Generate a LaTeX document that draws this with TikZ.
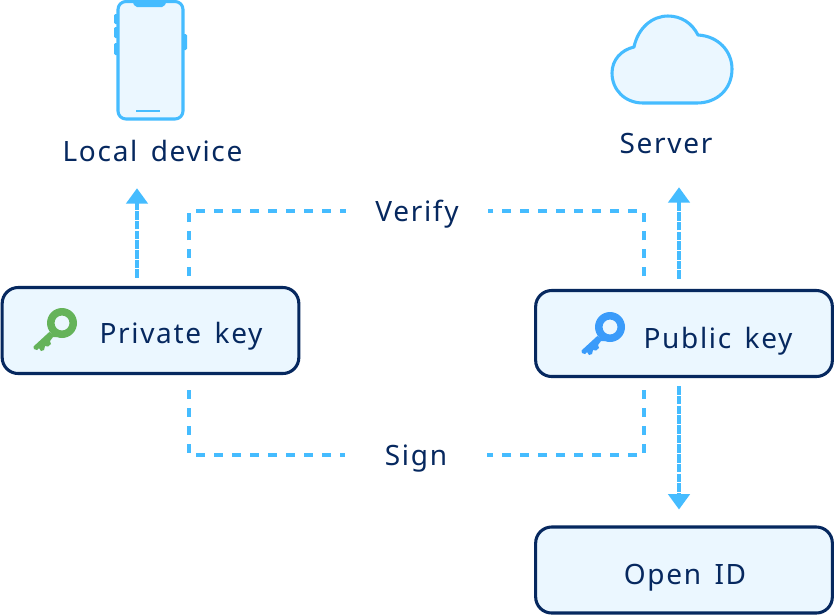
\documentclass[tikz,border=0pt]{standalone}
\usepackage{fontspec}
\setmainfont[LetterSpace=6,WordSpace=1.5]{Noto Sans}
\usepackage{tikz}
\usetikzlibrary{arrows.meta}
\definecolor{navy}{HTML}{06285F}
\definecolor{skyline}{HTML}{45BCFF}
\definecolor{skyfill}{HTML}{EBF7FF}
\definecolor{keygreen}{HTML}{65B35A}
\definecolor{keyblue}{HTML}{3A9BFA}
\begin{document}
\begin{tikzpicture}
    [
    x=0.75pt,y=-0.75pt,
    box/.style={rectangle,draw=navy,fill=skyfill,line width=2.3pt,rounded corners=12pt,minimum width=222.5pt,minimum height=64.5pt,inner sep=0pt},
    label/.style={text=navy,font=\fontsize{21}{24}\selectfont,inner sep=0pt,text height=15pt,text depth=0pt},
    gaplabel/.style={label,minimum width=106pt},
    flow/.style={skyline,line width=2.5pt,dash pattern=on 6.75pt off 6.75pt},
    arrow/.style={skyline,line width=2.5pt,dash pattern=on 6.4pt off 0.9pt,-{Triangle[length=11.5pt,width=16pt]}},
    icon/.style={draw=skyline,fill=skyfill,line width=2.3pt,line join=round},
    key/.pic={
      \fill [even odd rule] (0,0) circle (15) (0,0) circle (7.5);
      \fill (-12.7,9) -- (-28.5,23.5) -- (-28,26) -- (-25,27) -- (-23,25) -- (-21,28) -- (-18,27) -- (-17,23) -- (-14,23.5) -- (-11,21) -- (-12,18) -- (-9,14) -- (-5,14) -- cycle;
    }
    ]
    \useasboundingbox (0,0) rectangle (834,615);
    \fill [white] (0,0) rectangle (834,615);
    % phone
    \fill [skyline,rounded corners=1pt] (114,14) rectangle (119,24) (114,27) rectangle (119,38) (114,43) rectangle (119,55) (182,34) rectangle (187,50);
    \draw [icon,rounded corners=6pt] (118,1.5) rectangle (183,119);
    \fill [skyline] (132,0) -- (167,0) -- (165,5) -- (162,7) -- (137,7) -- (134,5) -- cycle;
    \draw [skyline,line width=2pt] (136,111) -- (160,111);
    % cloud
    \draw [icon] (643,103) .. controls (625,103) and (612,90) .. (612,73) .. controls (612,60) and (621,50) .. (634,47) .. controls (638,28) and (652,16) .. (668,16) .. controls (681,16) and (692,23) .. (698,35) .. controls (718,36) and (732,51) .. (732,69) .. controls (732,89) and (717,103) .. (697,103) -- cycle;
    % labels
    \node (local) at (152.5,151) [label] {Local device};
    \node (server) at (666,143) [label] {Server};
    \node (verify) at (417,211) [gaplabel] {Verify};
    \node (sign) at (416,455) [gaplabel] {Sign};
    % boxes
    \node (private) at (150.5,330.5) [box] {};
    \node (public) at (684,333.5) [box] {};
    \node (openid) at (684,570) [box] {};
    \node (privatetext) at (181,333) [label] {Private key};
    \node (publictext) at (718,338) [label] {Public key};
    \node (openidtext) at (685,574) [label] {Open ID};
    \pic [keygreen] at (62,323) {key};
    \pic [keyblue] at (610,327) {key};
    % free ends
    \coordinate (vl) at (189,276);
    \coordinate (vr) at (644,276);
    \coordinate (sl) at (189,390);
    \coordinate (sr) at (644,390);
    \draw [flow] (vl) |- (verify.west);
    \draw [flow] (vr) |- (verify.east);
    \draw [flow] (sl) |- (sign.west);
    \draw [flow] (sr) |- (sign.east);
    \draw [arrow,shorten <=6pt,shorten >=20.25pt] ([xshift=-10.125pt]private.north) to ([xshift=-11.625pt]local.south);
    \draw [arrow,shorten <=7.5pt,shorten >=25.5pt] ([xshift=-3.75pt]public.north) to ([xshift=9.75pt]server.south);
    \draw [arrow,shorten <=6pt,shorten >=12pt] ([xshift=-3.75pt]public.south) to ([xshift=-3.75pt]openid.north);
  \end{tikzpicture}
\end{document}
